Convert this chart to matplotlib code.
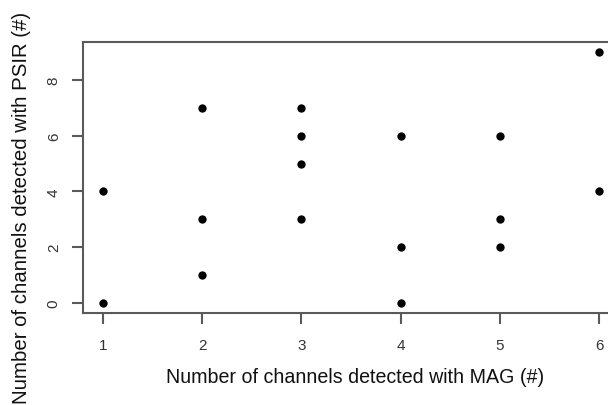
import matplotlib
matplotlib.use("Agg")
import matplotlib.pyplot as plt

mag = [1, 1, 2, 2, 2, 3, 3, 3, 3, 4, 4, 4, 5, 5, 5, 6, 6]
psir = [0, 4, 1, 3, 7, 3, 5, 6, 7, 0, 2, 6, 2, 3, 6, 4, 9]
xticks = [1, 2, 3, 4, 5, 6]
yticks = [0, 2, 4, 6, 8]

plt.rcParams['font.family'] = ['Liberation Sans', 'DejaVu Sans']
W, H = 608, 406
fig = plt.figure(figsize=(W / 100, H / 100), dpi=100)
ax = fig.add_axes([83 / W, (H - 314) / H, 536 / W, 271 / H])
ax.scatter(mag, psir, s=36, c='black', linewidths=0, zorder=3)
ax.set_xlim(0.8, 6.2)
ax.set_ylim(-0.36, 9.36)
ax.set_xticks(xticks)
ax.set_yticks(yticks)
frame_col = '#5a5a5a'
for sp in ax.spines.values():
    sp.set_color(frame_col)
    sp.set_linewidth(1.5)
ax.tick_params(axis='both', direction='out', length=8, width=1.5, color=frame_col,
               labelsize=11, labelcolor='#333333')
ax.tick_params(axis='x', pad=10)
ax.tick_params(axis='y', pad=8)
for lab in ax.get_yticklabels():
    lab.set_rotation(90)
    lab.set_va('center')
fig.text(355 / W, 1 - 378 / H, 'Number of channels detected with MAG (#)',
         ha='center', va='center', fontsize=14.1, color='#111111')
fig.text(22 / W, 1 - 208 / H, 'Number of channels detected with PSIR (#)',
         ha='center', va='center', rotation=90, fontsize=14.7, color='#111111')
fig.savefig('out.png', dpi=100)
